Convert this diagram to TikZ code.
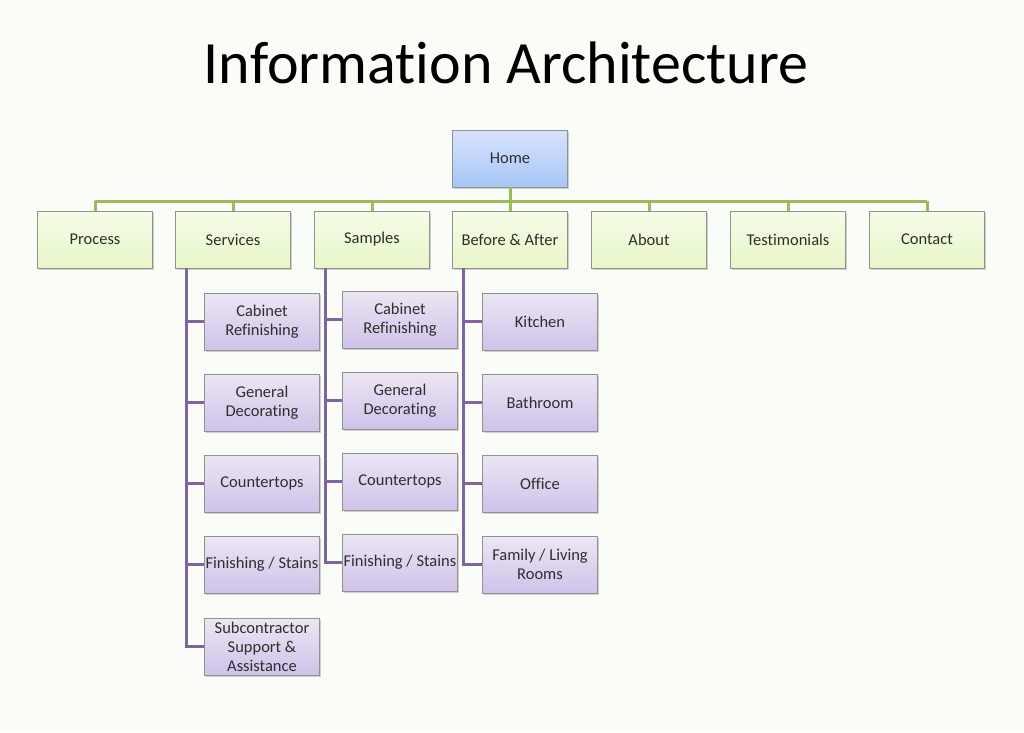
\documentclass[tikz,border=0pt]{standalone}
\usepackage{fontspec}
\setmainfont[Ligatures=NoCommon]{Carlito}
\usetikzlibrary{shadows}
\definecolor{pagebg}{RGB}{249,252,247}
\definecolor{greenline}{RGB}{155,187,89}
\definecolor{purpline}{RGB}{128,100,162}
\definecolor{boxedge}{RGB}{145,145,145}
\definecolor{hometop}{RGB}{215,227,252}
\definecolor{homebot}{RGB}{168,198,248}
\definecolor{pagetop}{RGB}{245,252,232}
\definecolor{pagebot}{RGB}{230,247,200}
\definecolor{subtop}{RGB}{236,230,243}
\definecolor{subbot}{RGB}{208,194,234}

\begin{document}
\begin{tikzpicture}[x=1pt,y=-1pt,
  box/.style={draw=boxedge,minimum width=115pt,minimum height=57pt,inner sep=1pt,
    align=center,text=black!82,font=\fontsize{16.5}{19}\selectfont,
    drop shadow={shadow xshift=1.5pt,shadow yshift=-1.5pt,opacity=0.35}},
  homebox/.style={box,top color=hometop,bottom color=homebot},
  pagebox/.style={box,top color=pagetop,bottom color=pagebot},
  subbox/.style={box,top color=subtop,bottom color=subbot},
  greenlink/.style={greenline,line width=3pt},
  purplink/.style={purpline,line width=3pt}]
\fill[pagebg](0,0) rectangle (1024,732);
\node[anchor=base,font=\fontsize{60}{64}\selectfont] (title) at (506,83) {Information Architecture};
% top level
\node[homebox] (home) at (510,158.5) {Home};
\foreach \n/\x/\t in {process/95/Process,services/233/Services,samples/372/Samples,
  before/510/Before \& After,about/649/About,testimonials/788/Testimonials,contact/927/Contact}
  \node[pagebox] (\n) at (\x,239.5) {\t};
\coordinate (bar) at (510,201);
\draw[greenlink](home.south)--(bar);
\draw[greenlink](process.north |- bar)--(contact.north |- bar);
\foreach \n in {process,services,samples,before,about,testimonials,contact}
  \draw[greenlink](\n.north)--(\n.north |- bar);
% services
\node[subbox] (svcab) at (262,321.5) {Cabinet\\Refinishing};
\node[subbox] (svdeco) at (262,402.5) {General\\Decorating};
\node[subbox] (svcount) at (262,483.5) {Countertops};
\node[subbox] (svfin) at (262,564.5) {Finishing / Stains};
\node[subbox] (svsub) at (262,646.5) {Subcontractor\\Support \&\\Assistance};
% samples
\node[subbox] (smcab) at (400,319.5) {Cabinet\\Refinishing};
\node[subbox] (smdeco) at (400,400.5) {General\\Decorating};
\node[subbox] (smcount) at (400,481.5) {Countertops};
\node[subbox] (smfin) at (400,562.5) {Finishing / Stains};
% before & after
\node[subbox] (bakit) at (540,321.5) {Kitchen};
\node[subbox] (babath) at (540,402.5) {Bathroom};
\node[subbox] (baoff) at (540,483.5) {Office};
\node[subbox] (baliv) at (540,564.5) {Family / Living\\Rooms};
\foreach \c in {svcab,svdeco,svcount,svfin,svsub}
  \draw[purplink]([xshift=11pt]services.south west)|-(\c.west);
\foreach \c in {smcab,smdeco,smcount,smfin}
  \draw[purplink]([xshift=11pt]samples.south west)|-(\c.west);
\foreach \c in {bakit,babath,baoff,baliv}
  \draw[purplink]([xshift=11pt]before.south west)|-(\c.west);
\end{tikzpicture}
\end{document}
